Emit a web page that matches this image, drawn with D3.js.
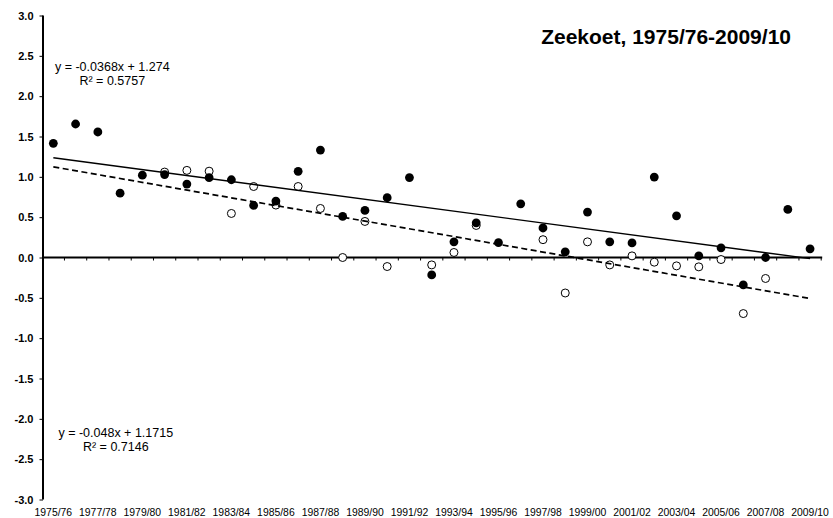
<!DOCTYPE html>
<html>
<head>
<meta charset="utf-8">
<script src="https://cdn.jsdelivr.net/npm/d3@7"></script>
<style>
  body { margin: 0; background: #fff; }
  text { font-family: Arial, "Liberation Sans", sans-serif; fill: #000; }
</style>
</head>
<body>
<svg id="chart" width="833" height="518"></svg>
<script>
// data
const seasons = [
  '1975/76', '1976/77', '1977/78', '1978/79', '1979/80', '1980/81', '1981/82',
  '1982/83', '1983/84', '1984/85', '1985/86', '1986/87', '1987/88', '1988/89',
  '1989/90', '1990/91', '1991/92', '1992/93', '1993/94', '1994/95', '1995/96',
  '1996/97', '1997/98', '1998/99', '1999/00', '2000/01', '2001/02', '2002/03',
  '2003/04', '2004/05', '2005/06', '2006/07', '2007/08', '2008/09', '2009/10'
];

const filledValues = [
  1.416, 1.655, 1.556, 0.798, 1.020, 1.028, 0.910, 0.989, 0.964, 0.646,
  0.699, 1.068, 1.332, 0.509, 0.583, 0.741, 0.991, -0.216, 0.194, 0.430,
  0.184, 0.665, 0.366, 0.070, 0.563, 0.194, 0.181, 0.997, 0.517, 0.020,
  0.120, -0.340, 0.000, 0.596, 0.107
];

const openValues = [
  null, null, null, null, null, 1.059, 1.080, 1.070, 0.546, 0.880,
  0.650, 0.880, 0.608, 0.000, 0.447, -0.112, null, -0.092, 0.062, 0.397,
  null, null, 0.221, -0.440, 0.194, -0.092, 0.020, -0.058, -0.104, -0.116,
  -0.025, -0.695, -0.260, null, null
];

// trend lines: [slope, intercept], x = season index starting at 1
const trendFilled = [-0.0368, 1.274];
const trendOpen = [-0.048, 1.1715];

const yTicks = [-3, -2.5, -2, -1.5, -1, -0.5, 0, 0.5, 1, 1.5, 2, 2.5, 3];
const labelEvery = 2;

const title = 'Zeekoet, 1975/76-2009/10';
const eqFilled = ['y = -0.0368x + 1.274', 'R² = 0.5757'];
const eqOpen = ['y = -0.048x + 1.1715', 'R² = 0.7146'];

// layout
const svg = d3.select('#chart');
const plot = { left: 42.2, right: 821.2, top: 15.5, bottom: 499.5 };

const x = d3.scaleBand()
  .domain(seasons)
  .range([plot.left, plot.right])
  .padding(0);

// numeric position of a season index (1-based) for the trend lines
const xi = d3.scaleLinear()
  .domain([0.5, seasons.length + 0.5])
  .range([plot.left, plot.right]);

const y = d3.scaleLinear()
  .domain([-3, 3])
  .range([plot.bottom, plot.top]);

const cx = (d, i) => x(seasons[i]) + x.bandwidth() / 2;

// y axis
const yAxis = svg.append('g')
  .attr('transform', `translate(${plot.left + 0.8},0)`)
  .call(d3.axisLeft(y)
    .tickValues(yTicks)
    .tickSize(3.5)
    .tickPadding(6)
    .tickFormat(d => d.toFixed(1)));

yAxis.select('.domain')
  .attr('stroke', '#000')
  .attr('stroke-width', 2)
  .attr('d', `M0,${plot.top}V${plot.bottom}`);
yAxis.selectAll('.tick line').attr('stroke', '#000').attr('stroke-width', 1);
yAxis.selectAll('.tick text')
  .attr('font-size', '11px')
  .attr('font-weight', 'bold')
  .attr('font-family', 'Arial, "Liberation Sans", sans-serif');

// x axis on the zero line
const xAxis = svg.append('g')
  .attr('transform', `translate(0,${y(0)})`);

xAxis.append('line')
  .attr('x1', plot.left)
  .attr('x2', plot.right + 1)
  .attr('stroke', '#000')
  .attr('stroke-width', 2);

xAxis.selectAll('.xtick')
  .data(seasons)
  .enter()
  .append('line')
  .attr('class', 'xtick')
  .attr('x1', d => x(d) + x.bandwidth())
  .attr('x2', d => x(d) + x.bandwidth())
  .attr('y1', 0)
  .attr('y2', 3)
  .attr('stroke', '#000')
  .attr('stroke-width', 1);

// category labels at the bottom
svg.append('g')
  .selectAll('text')
  .data(seasons.filter((d, i) => i % labelEvery === 0))
  .enter()
  .append('text')
  .attr('x', d => x(d) + x.bandwidth() / 2)
  .attr('y', 515.5)
  .attr('text-anchor', 'middle')
  .attr('font-size', '10.4px')
  .text(d => d);

// open markers
svg.append('g')
  .selectAll('circle')
  .data(openValues.map((v, i) => ({ v, i })).filter(d => d.v !== null))
  .enter()
  .append('circle')
  .attr('cx', d => cx(null, d.i))
  .attr('cy', d => y(d.v))
  .attr('r', 4)
  .attr('fill', '#fff')
  .attr('stroke', '#000')
  .attr('stroke-width', 1);

// filled markers
svg.append('g')
  .selectAll('circle')
  .data(filledValues)
  .enter()
  .append('circle')
  .attr('cx', cx)
  .attr('cy', d => y(d))
  .attr('r', 4.4)
  .attr('fill', '#000');

// trend lines
const trendLine = c => d3.line()
  .x(d => xi(d))
  .y(d => y(c[0] * d + c[1]));

svg.append('path')
  .datum([1, seasons.length])
  .attr('fill', 'none')
  .attr('stroke', '#000')
  .attr('stroke-width', 1.4)
  .attr('d', trendLine(trendFilled));

svg.append('path')
  .datum([1, seasons.length])
  .attr('fill', 'none')
  .attr('stroke', '#000')
  .attr('stroke-width', 1.7)
  .attr('stroke-dasharray', '6,3.5')
  .attr('d', trendLine(trendOpen));

// equations
const eq = (lines, cxPos, y0) => {
  svg.append('g')
    .selectAll('text')
    .data(lines)
    .enter()
    .append('text')
    .attr('x', cxPos)
    .attr('y', (d, i) => y0 + i * 14)
    .attr('text-anchor', 'middle')
    .attr('font-size', '12.5px')
    .text(d => d);
};
eq(eqFilled, 112.3, 70.5);
eq(eqOpen, 115.8, 436.5);

// title
svg.append('text')
  .attr('x', 791)
  .attr('y', 44)
  .attr('text-anchor', 'end')
  .attr('font-size', '21px')
  .attr('font-weight', 'bold')
  .text(title);
</script>
</body>
</html>
